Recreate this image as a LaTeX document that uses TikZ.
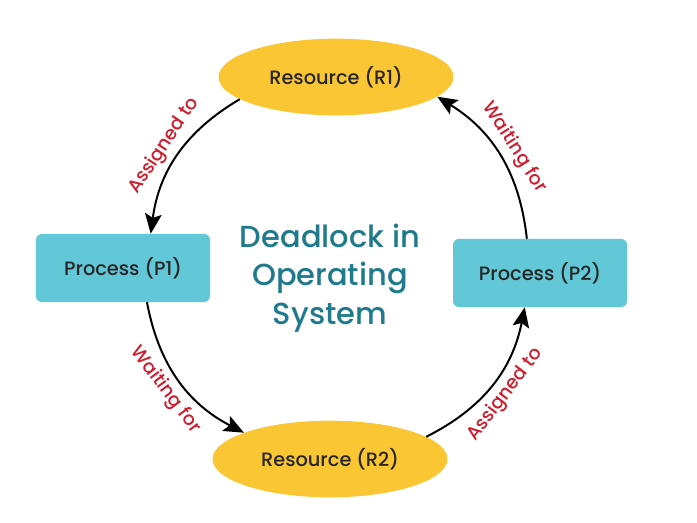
\documentclass[tikz,border=0pt]{standalone}
\usepackage{fontspec}
\setmainfont{Poppins Medium}
\usetikzlibrary{shapes.geometric,arrows.meta}
\definecolor{resyellow}{HTML}{FBC634}
\definecolor{procteal}{HTML}{62C7D7}
\definecolor{titleteal}{HTML}{1F7A8C}
\definecolor{labred}{HTML}{CC1F2F}
\begin{document}
\begin{tikzpicture}[x=0.03cm,y=0.03cm,
  resource/.style={ellipse,fill=resyellow,inner sep=0pt,minimum width=7.05cm,minimum height=2.3cm,font=\fontsize{16.5}{18}\selectfont,text=black!85},
  process/.style={rectangle,rounded corners=5pt,fill=procteal,inner sep=0pt,minimum width=5.22cm,minimum height=2.04cm,font=\fontsize{16.5}{18}\selectfont,text=black!85},
  link/.style={-{Stealth[length=0.6cm,width=0.5cm,inset=0.12cm]},line width=1.7pt,black,bend right=26},
  lab/.style={midway,sloped,font=\fontsize{16}{18}\selectfont,text=labred,inner sep=5pt}
]
\useasboundingbox (0,0) rectangle (697,522);
\node[resource] (R1) at (336,445) {Resource (R1)};
\node[resource] (R2) at (330,63) {Resource (R2)};
\node[process] (P1) at (123,254) {Process (P1)};
\node[process] (P2) at (540,249) {Process (P2)};
\node[align=center,text=titleteal,font=\fontsize{26}{33}\selectfont] (T) at (330,244) {Deadlock in\\Operating\\System};
\draw[link] (R1.193) to node[lab,above] {Assigned to} (P1.51.5);
\draw[link] (P1.-55) to node[lab,below] {Waiting for} (R2.163);
\draw[link] (R2.13) to node[lab,below] {Assigned to} (P2.246);
\draw[link] (P2.111) to node[lab,above] {Waiting for} (R1.-11);
\end{tikzpicture}
\end{document}
